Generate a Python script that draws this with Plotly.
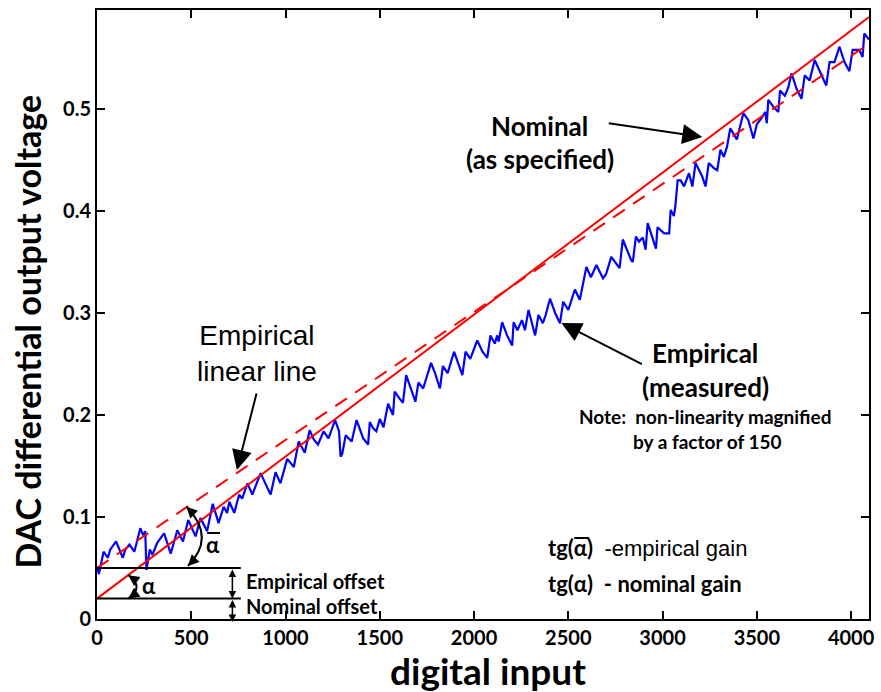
import plotly.graph_objects as go

# ---------------- data ----------------
# measured (empirical) DAC transfer curve, non-linearity magnified x150
codes = [0, 10, 35, 58, 70, 101, 137, 150, 172, 198, 230, 245, 256, 262, 280, 294, 320, 356, 391,
         426, 456, 484, 523, 549, 584, 614, 645, 672, 690, 702, 728, 754, 770, 798, 824, 868, 895,
         921, 947, 973, 1009, 1044, 1070, 1102, 1128, 1150, 1172, 1202, 1228, 1263, 1284, 1292,
         1301, 1319, 1351, 1377, 1412, 1438, 1447, 1465, 1482, 1500, 1520, 1544, 1570, 1579, 1605,
         1623, 1640, 1660, 1689, 1705, 1730, 1772, 1795, 1819, 1835, 1860, 1894, 1915, 1938, 1955,
         1980, 2017, 2045, 2070, 2087, 2110, 2123, 2131, 2149, 2175, 2202, 2210, 2230, 2254, 2270,
         2289, 2324, 2342, 2365, 2380, 2403, 2430, 2456, 2473, 2500, 2535, 2561, 2596, 2620, 2649,
         2684, 2700, 2728, 2772, 2789, 2833, 2842, 2859, 2875, 2895, 2910, 2921, 2965, 2973, 3008,
         3035, 3043, 3060, 3068, 3080, 3096, 3114, 3140, 3158, 3175, 3210, 3228, 3245, 3272, 3290,
         3307, 3325, 3342, 3359, 3385, 3394, 3429, 3455, 3482, 3500, 3525, 3544, 3553, 3561, 3588,
         3614, 3623, 3649, 3667, 3684, 3710, 3737, 3754, 3780, 3807, 3842, 3868, 3886, 3912, 3938,
         3965, 3991, 4008, 4043, 4061, 4070, 4095]
measured = [0.051, 0.044, 0.066, 0.060, 0.068, 0.076, 0.060, 0.068, 0.073, 0.066, 0.089, 0.082,
            0.086, 0.048, 0.068, 0.063, 0.075, 0.084, 0.064, 0.087, 0.076, 0.097, 0.081, 0.099,
            0.086, 0.113, 0.094, 0.110, 0.104, 0.115, 0.104, 0.122, 0.118, 0.133, 0.122, 0.143,
            0.132, 0.122, 0.144, 0.133, 0.157, 0.149, 0.174, 0.163, 0.185, 0.176, 0.171, 0.184,
            0.177, 0.195, 0.184, 0.159, 0.162, 0.180, 0.174, 0.195, 0.177, 0.171, 0.193, 0.187,
            0.184, 0.196, 0.188, 0.211, 0.200, 0.223, 0.216, 0.212, 0.239, 0.228, 0.213, 0.232,
            0.226, 0.251, 0.240, 0.226, 0.248, 0.241, 0.262, 0.251, 0.239, 0.262, 0.255, 0.273,
            0.262, 0.256, 0.278, 0.270, 0.278, 0.272, 0.291, 0.278, 0.268, 0.291, 0.283, 0.293,
            0.283, 0.303, 0.278, 0.298, 0.290, 0.298, 0.314, 0.300, 0.290, 0.311, 0.303, 0.323,
            0.313, 0.345, 0.335, 0.347, 0.334, 0.338, 0.355, 0.344, 0.372, 0.352, 0.350, 0.375,
            0.370, 0.374, 0.362, 0.388, 0.363, 0.384, 0.378, 0.378, 0.401, 0.395, 0.405, 0.430,
            0.430, 0.424, 0.437, 0.424, 0.447, 0.434, 0.424, 0.447, 0.442, 0.440, 0.460, 0.453,
            0.463, 0.481, 0.473, 0.470, 0.496, 0.489, 0.471, 0.485, 0.491, 0.497, 0.486, 0.509,
            0.502, 0.497, 0.518, 0.513, 0.521, 0.535, 0.520, 0.510, 0.533, 0.528, 0.548, 0.533,
            0.523, 0.546, 0.546, 0.561, 0.546, 0.537, 0.558, 0.558, 0.551, 0.574, 0.568]

line_codes = [0, 4095]
nominal_offset, nominal_gain = 0.02, 0.0001392
empirical_offset, empirical_gain = 0.05, 0.0001255
offset_line_end = 763
offset_arrow_code = 718

x_ticks = [0, 500, 1000, 1500, 2000, 2500, 3000, 3500, 4000]
y_ticks = [0, 0.1, 0.2, 0.3, 0.4, 0.5]
y_tick_labels = ["0", "0.1", "0.2", "0.3", "0.4", "0.5"]

# ---------------- figure ----------------
W, H = 881, 692
ML, MR, MT, MB = 97, 6, 10, 73
PW, PH = W - ML - MR, H - MT - MB
XMAX, YMAX = 4095, 0.597

FONT = "Lato, 'Open Sans', 'DejaVu Sans', sans-serif"
ARIAL = "'Liberation Sans', Arial, sans-serif"


def px(x):
    return (x - ML) / PW


def py(y):
    return (H - MB - y) / PH


fig = go.Figure()
fig.add_trace(go.Scatter(x=codes, y=measured, mode="lines",
                         line=dict(color="#0000ff", width=2.2), hoverinfo="skip"))
fig.add_trace(go.Scatter(x=line_codes,
                         y=[nominal_offset + nominal_gain * c for c in line_codes],
                         mode="lines", line=dict(color="#ff0000", width=2)))
fig.add_trace(go.Scatter(x=line_codes,
                         y=[empirical_offset + empirical_gain * c for c in line_codes],
                         mode="lines", line=dict(color="#ff0000", width=2, dash="14px,10px")))

shapes = []
for yv in (empirical_offset, nominal_offset):
    shapes.append(dict(type="line", xref="x", yref="y", x0=0, x1=offset_line_end,
                       y0=yv, y1=yv, line=dict(color="black", width=2)))
# angle arcs (quadratic bezier in data coords)
shapes.append(dict(type="path", xref="x", yref="y",
                   path="M 474,0.110 Q 634,0.0804 482,0.052",
                   line=dict(color="black", width=2)))
shapes.append(dict(type="path", xref="x", yref="y",
                   path="M 166,0.043 Q 254,0.0315 166,0.020",
                   line=dict(color="black", width=2)))


def bar(x0, x1, y):
    shapes.append(dict(type="line", xref="paper", yref="paper", x0=px(x0), x1=px(x1),
                       y0=py(y), y1=py(y), line=dict(color="black", width=2)))


ann = []


def text(x, y, s, size, fam=FONT, color="black", xanchor="center", bold=True):
    ann.append(dict(x=px(x), y=py(y), xref="paper", yref="paper", text=("<b>%s</b>" % s) if bold else s,
                    showarrow=False, xanchor=xanchor, yanchor="middle",
                    font=dict(family=fam, size=size, color=color)))


def arrow(hx, hy, tx, ty, size=2.0, width=2):
    ann.append(dict(x=px(hx), y=py(hy), xref="paper", yref="paper", ax=tx - hx, ay=ty - hy,
                    axref="pixel", ayref="pixel", text="", showarrow=True, arrowhead=2,
                    arrowsize=size, arrowwidth=width, arrowcolor="black"))


# arc arrowheads
def head(xd, yd, ax, ay):
    ann.append(dict(x=xd, y=yd, xref="x", yref="y", ax=ax, ay=ay, text="", showarrow=True,
                    arrowhead=2, arrowsize=1.1, arrowwidth=2, arrowcolor="black", standoff=0))


head(474, 0.110, 6, 6)
head(482, 0.052, 6, -6)
head(166, 0.043, 7, 5)
head(166, 0.020, 7, -5)

# double-headed offset arrows
for y0, y1 in ((empirical_offset, nominal_offset), (nominal_offset, -0.003)):
    ann.append(dict(x=offset_arrow_code, y=y1, ax=offset_arrow_code, ay=y0, xref="x", yref="y",
                    axref="x", ayref="y", text="", showarrow=True, arrowhead=2, startarrowhead=2,
                    arrowside="end+start", arrowsize=1.0, startarrowsize=1.0, arrowwidth=1.5,
                    arrowcolor="black", standoff=0, startstandoff=0))

text(245, 581, "Empirical offset", 20, xanchor="left")
text(245, 606, "Nominal offset", 20, xanchor="left")
text(149, 585, "α", 22)
text(214, 544, "α", 22)
bar(208, 221, 533)

text(258, 353, "Empirical<br>linear line", 28, fam=ARIAL, bold=False)
arrow(238, 470, 258, 392)

text(543, 126, "Nominal", 26)
text(543, 159, "(as specified)", 26)
arrow(707, 137, 612, 123)

text(710, 353, "Empirical", 26)
text(710, 387, "(measured)", 26)
arrow(565, 323, 647, 365)

text(710, 416, "Note:  non-linearity magnified", 19)
text(712, 441, "by a factor of 150", 19)

ann.append(dict(x=px(549), y=py(547), xref="paper", yref="paper", showarrow=False,
                xanchor="left", yanchor="middle",
                text="<b>tg(α)</b>  <span style='font-family:Liberation Sans'>-empirical gain</span>",
                font=dict(family=FONT, size=22, color="black")))
bar(578, 593, 538)
ann.append(dict(x=px(549), y=py(583), xref="paper", yref="paper", showarrow=False,
                xanchor="left", yanchor="middle",
                text="<b>tg(α)  - nominal gain</b>",
                font=dict(family=FONT, size=22, color="black")))

# axis titles
ann.append(dict(x=px(26), y=py(332), xref="paper", yref="paper", showarrow=False,
                text="<b>DAC differential output voltage</b>", textangle=-90,
                xanchor="center", yanchor="middle",
                font=dict(family=FONT, size=34, color="black")))
ann.append(dict(x=px(491), y=py(670), xref="paper", yref="paper", showarrow=False,
                text="<b>digital input</b>", xanchor="center", yanchor="middle",
                font=dict(family=FONT, size=37, color="black")))

axis_common = dict(showline=True, linecolor="black", linewidth=2, mirror="ticks",
                   ticks="inside", ticklen=8, tickwidth=1.5, tickcolor="black",
                   showgrid=False, zeroline=False,
                   tickfont=dict(family=FONT, size=20, color="black", weight="bold"))

fig.update_layout(
    width=W, height=H, margin=dict(l=ML, r=MR, t=MT, b=MB),
    paper_bgcolor="white", plot_bgcolor="white", showlegend=False,
    xaxis=dict(range=[0, XMAX], tickvals=x_ticks, ticktext=[str(v) for v in x_ticks], **axis_common),
    yaxis=dict(range=[0, YMAX], tickvals=y_ticks, ticktext=y_tick_labels, **axis_common),
    shapes=shapes, annotations=ann,
)

fig.write_html("out.html")
